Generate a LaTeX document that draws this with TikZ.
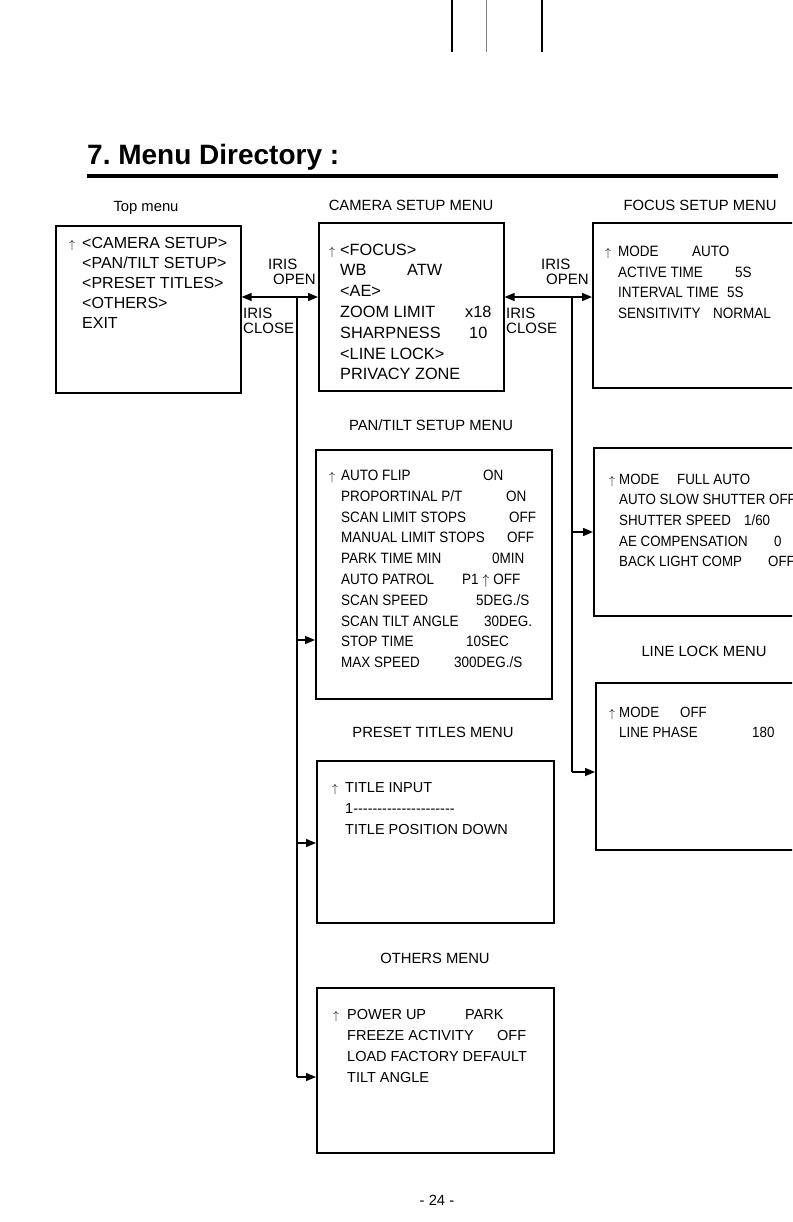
\documentclass[tikz,border=0pt]{standalone}
\usepackage{fontspec}
\setmainfont{Liberation Sans}
\newfontfamily\narrowfont[FakeStretch=0.9]{Liberation Sans}
\newfontfamily\rawfont[Ligatures=TeXOff]{Liberation Sans}
\usetikzlibrary{arrows.meta}
\frenchspacing

\newcommand{\cur}[1][6pt]{\llap{{\fontsize{12}{12}\selectfont$\uparrow$}\hspace{#1}}}
\newcommand{\kv}[3]{\makebox[#1pt][l]{#2}#3}

\begin{document}
\begin{tikzpicture}[x=1pt,y=-1pt,
  box/.style={draw,line width=1.6pt,inner sep=0pt,anchor=north west},
  menu/.style={anchor=base west,align=left,inner sep=0pt},
  narrow/.style={menu,font=\narrowfont\fontsize{14.8}{20.6}\selectfont},
  head/.style={anchor=base,inner sep=0pt,font=\fontsize{14.8}{17}\selectfont},
  iris/.style={anchor=base west,align=left,inner sep=0pt,font=\fontsize{15}{15.5}\selectfont},
  link/.style={line width=1.4pt},
  tip/.style={-{Triangle[length=10pt,width=8pt]}}]
\clip (0,0) rectangle (792,1222);

% marks at the top of the page
\draw[line width=1.2pt] (452,0) -- (452,52);
\draw[line width=0.6pt,gray] (486,0) -- (486,52);
\draw[line width=1.2pt] (542,0) -- (542,52);

\node[anchor=base west,inner sep=0pt,font=\bfseries\fontsize{28}{30}\selectfont] (title) at (87,165) {7. Menu Directory :};
\draw[line width=4.5pt] (87,176) -- (778,176);

% boxes
\node[box,minimum width=185pt,minimum height=167pt] (top) at (55,225) {};
\node[box,minimum width=185pt,minimum height=168pt] (cam) at (318,222) {};
\node[box,minimum width=230pt,minimum height=165pt] (focus) at (592,222) {};
\node[box,minimum width=236pt,minimum height=249pt] (pan) at (315,449) {};
\node[box,minimum width=230pt,minimum height=168pt] (ae) at (593,447) {};
\node[box,minimum width=230pt,minimum height=167pt] (lock) at (595,682) {};
\node[box,minimum width=237pt,minimum height=162pt] (preset) at (316,760) {};
\node[box,minimum width=237pt,minimum height=165pt] (others) at (316,987) {};

% headings
\node[head] (toph) at (146,212) {Top menu};
\node[head] (camh) at (411,211) {CAMERA SETUP MENU};
\node[head] (focush) at (700,211) {FOCUS SETUP MENU};
\node[head] (panh) at (431,430) {PAN/TILT SETUP MENU};
\node[head] (lockh) at (704,656) {LINE LOCK MENU};
\node[head] (preseth) at (433,737) {PRESET TITLES MENU};
\node[head] (othersh) at (435,963) {OTHERS MENU};
\node[head] (page) at (437,1205) {- 24 -};

% menu texts (anchored at the last line)
\node[menu,font=\fontsize{16}{20}\selectfont] (toptxt) at (82,328.7)
  {\cur[7pt]<CAMERA SETUP>\\<PAN/TILT SETUP>\\<PRESET TITLES>\\<OTHERS>\\EXIT};
\node[menu,font=\fontsize{16.3}{20.8}\selectfont] (camtxt) at (340,379.8)
  {\cur[5pt]<FOCUS>\\\kv{67}{WB}{ATW}\\<AE>\\\kv{125}{ZOOM LIMIT}{x18}\\\kv{129}{SHARPNESS}{10}\\<LINE LOCK>\\PRIVACY ZONE};
\node[narrow,font=\narrowfont\fontsize{15}{20.7}\selectfont] (focustxt) at (618,318.5)
  {\cur[7pt]\kv{74}{MODE}{AUTO}\\\kv{117}{ACTIVE TIME}{5S}\\\kv{109}{INTERVAL TIME}{5S}\\\kv{95}{SENSITIVITY}{NORMAL}};
\node[narrow,font=\narrowfont\fontsize{15}{20.8}\selectfont] (pantxt) at (341,667.6)
  {\cur\kv{142}{AUTO FLIP}{ON}\\\kv{165}{PROPORTINAL P/T}{ON}\\\kv{168}{SCAN LIMIT STOPS}{OFF}\\
   \kv{166}{MANUAL LIMIT STOPS}{OFF}\\\kv{151}{PARK TIME MIN}{0MIN}\\\kv{121}{AUTO PATROL}{P1 $\uparrow$ OFF}\\
   \kv{135}{SCAN SPEED}{5DEG./S}\\\kv{143}{SCAN TILT ANGLE}{30DEG.}\\\kv{125}{STOP TIME}{10SEC}\\\kv{113}{MAX SPEED}{300DEG./S}};
\node[narrow] (aetxt) at (619,566.7)
  {\cur[4pt]\kv{58}{MODE}{FULL AUTO}\\AUTO SLOW SHUTTER OFF\\\kv{125}{SHUTTER SPEED}{1/60}\\
   \kv{155}{AE COMPENSATION}{0}\\\kv{149}{BACK LIGHT COMP}{OFF}};
\node[narrow,font=\narrowfont\fontsize{14.8}{20.5}\selectfont] (locktxt) at (619,737.8)
  {\cur[4pt]\kv{61}{MODE}{OFF}\\\kv{133}{LINE PHASE}{180}};
\node[menu,font=\fontsize{14.5}{21}\selectfont] (presettxt) at (345,834.2)
  {\cur[7pt]TITLE INPUT\\{\rawfont 1---------------------}\\TITLE POSITION DOWN};
\node[menu,font=\fontsize{14.5}{21}\selectfont] (otherstxt) at (347,1082.2)
  {\cur[8pt]\kv{118}{POWER UP}{PARK}\\\kv{150}{FREEZE ACTIVITY}{OFF}\\LOAD FACTORY DEFAULT\\TILT ANGLE};

% iris labels
\node[iris] (open1) at (268,285) {IRIS\\\hspace*{5pt}OPEN};
\node[iris] (close1) at (243,333.5) {IRIS\\CLOSE};
\node[iris] (open2) at (541,285) {IRIS\\\hspace*{5pt}OPEN};
\node[iris] (close2) at (506,333.5) {IRIS\\CLOSE};

% connectors
\coordinate (j1) at (297,297);
\coordinate (j2) at (572,297);
\draw[link,{Triangle[length=10pt,width=8pt]}-{Triangle[length=10pt,width=8pt]}] (top.east |- j1) -- (cam.west |- j1);
\draw[link,{Triangle[length=10pt,width=8pt]}-{Triangle[length=10pt,width=8pt]}] (cam.east |- j2) -- (focus.west |- j2);
\coordinate (p1) at (297,640);
\coordinate (p2) at (297,843);
\coordinate (p3) at (297,1077);
\draw[link] (j1) -- (p3);
\draw[link,tip] (p1) -- (pan.west |- p1);
\draw[link,tip] (p2) -- (preset.west |- p2);
\draw[link,tip] (p3) -- (others.west |- p3);
\coordinate (q1) at (572,532);
\coordinate (q2) at (572,772);
\draw[link] (j2) -- (q2);
\draw[link,tip] (q1) -- (ae.west |- q1);
\draw[link,tip] (q2) -- (lock.west |- q2);
\end{tikzpicture}
\end{document}
